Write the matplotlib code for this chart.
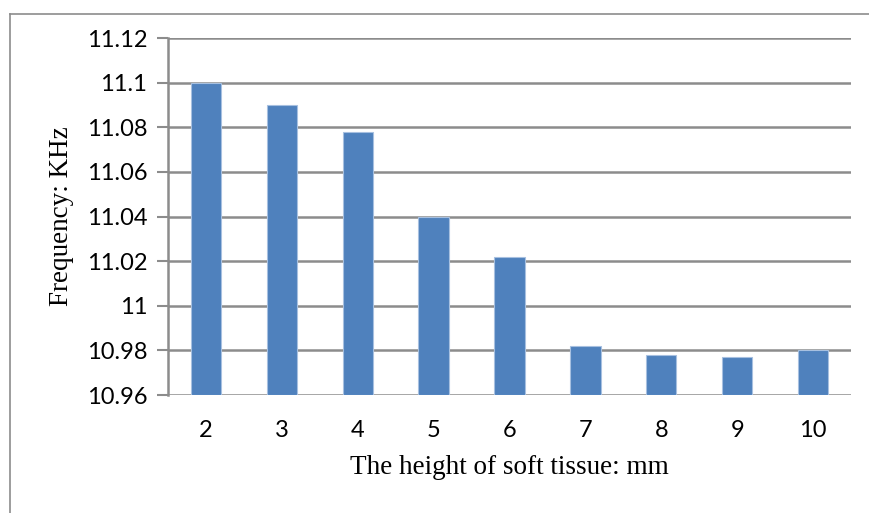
import matplotlib
matplotlib.use("Agg")
import matplotlib.pyplot as plt
from matplotlib.lines import Line2D

heights = [2, 3, 4, 5, 6, 7, 8, 9, 10]
frequency = [11.100, 11.090, 11.078, 11.040, 11.022, 10.982, 10.978, 10.977, 10.980]
y_ticks = [10.96, 10.98, 11.00, 11.02, 11.04, 11.06, 11.08, 11.10, 11.12]
y_tick_labels = ["10.96", "10.98", "11", "11.02", "11.04", "11.06", "11.08", "11.1", "11.12"]

tick_font = "Lato"
label_font = "Liberation Serif"

W, H = 870, 513
fig = plt.figure(figsize=(W / 100, H / 100), dpi=100)
ax = fig.add_axes([168 / W, 1 - 395 / H, (851 - 168) / W, (395 - 38) / H])

base = y_ticks[0]
x = list(range(len(heights)))
ax.bar(x, [v - base for v in frequency], bottom=base, width=0.4,
       color="#4F81BD", edgecolor="#A7C0E0", linewidth=0.8, zorder=3)

ax.set_xlim(-0.5, len(heights) - 0.5)
ax.set_ylim(y_ticks[0], y_ticks[-1])
ax.set_yticks(y_ticks)
ax.set_yticklabels(y_tick_labels, fontfamily=tick_font, fontsize=17)
ax.set_xticks(x)
ax.set_xticklabels([str(h) for h in heights], fontfamily=tick_font, fontsize=17)
ax.tick_params(axis="x", length=0, pad=18)
ax.tick_params(axis="y", length=8, width=1.5, color="#8C8C8C", pad=7)

ax.grid(axis="y", color="#8C8C8C", linewidth=1.8, zorder=1)
for s in ["top", "right", "bottom"]:
    ax.spines[s].set_visible(False)
ax.spines["left"].set_color("#8C8C8C")
ax.spines["left"].set_linewidth(1.8)

ax.set_xlabel("The height of soft tissue: mm", fontfamily=label_font, fontsize=19.5, va="center")
ax.set_ylabel("Frequency: KHz", fontfamily=label_font, fontsize=19.5, va="center")
ax.xaxis.set_label_coords(0.5, (395 - 467) / (395 - 38))
ax.yaxis.set_label_coords((62 - 168) / (851 - 168), 0.5)

# outer chart frame
fig.add_artist(Line2D([10 / W, 10 / W], [0, 1 - 14 / H], transform=fig.transFigure,
                      color="#8C8C8C", linewidth=1.2))
fig.add_artist(Line2D([10 / W, 1], [1 - 14 / H, 1 - 14 / H], transform=fig.transFigure,
                      color="#8C8C8C", linewidth=1.2))

fig.savefig("out.png", dpi=100)
